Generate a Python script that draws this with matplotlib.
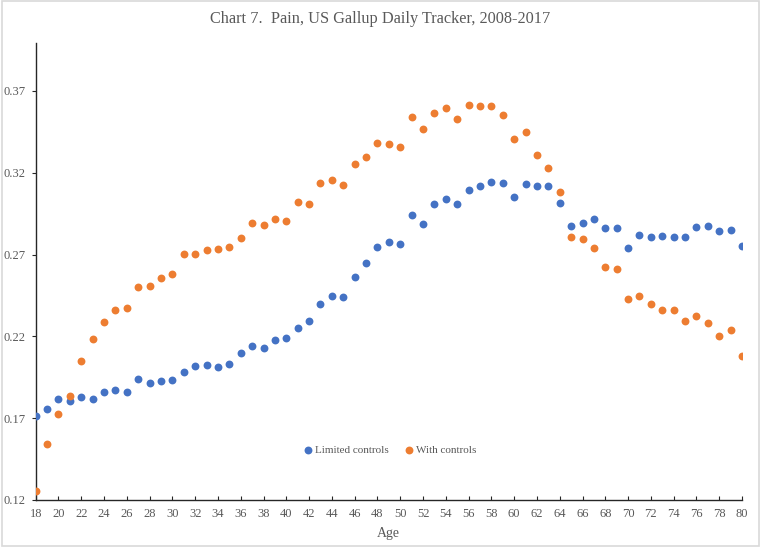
import matplotlib
matplotlib.use("Agg")
import matplotlib.pyplot as plt
from matplotlib.patches import Rectangle

ages = list(range(18, 81))
limited = [0.1715, 0.1756, 0.1815, 0.1805, 0.1832, 0.1815, 0.1860, 0.1870, 0.1862, 0.1940,
           0.1913, 0.1927, 0.1936, 0.1980, 0.2017, 0.2027, 0.2011, 0.2029, 0.2099, 0.2143,
           0.2127, 0.2176, 0.2188, 0.2253, 0.2296, 0.2400, 0.2445, 0.2443, 0.2561, 0.2649,
           0.2745, 0.2775, 0.2767, 0.2942, 0.2889, 0.3011, 0.3038, 0.3011, 0.3095, 0.3119,
           0.3142, 0.3140, 0.3054, 0.3132, 0.3119, 0.3117, 0.3015, 0.2877, 0.2895, 0.2918,
           0.2863, 0.2863, 0.2742, 0.2820, 0.2806, 0.2814, 0.2810, 0.2808, 0.2869, 0.2873,
           0.2842, 0.2852, 0.2753]
with_controls = [0.1253, 0.1542, 0.1728, 0.1834, 0.2050, 0.2182, 0.2286, 0.2361, 0.2372, 0.2502,
                 0.2508, 0.2559, 0.2580, 0.2702, 0.2704, 0.2728, 0.2736, 0.2748, 0.2801, 0.2891,
                 0.2879, 0.2916, 0.2905, 0.3023, 0.3007, 0.3140, 0.3154, 0.3123, 0.3256, 0.3297,
                 0.3382, 0.3378, 0.3356, 0.3541, 0.3466, 0.3565, 0.3594, 0.3529, 0.3612, 0.3608,
                 0.3610, 0.3551, 0.3408, 0.3447, 0.3311, 0.3229, 0.3085, 0.2810, 0.2797, 0.2738,
                 0.2624, 0.2610, 0.2427, 0.2445, 0.2396, 0.2361, 0.2361, 0.2296, 0.2325, 0.2280,
                 0.2200, 0.2239, 0.2080]
xticks = list(range(18, 81, 2))
yticks = [0.12, 0.17, 0.22, 0.27, 0.32, 0.37]
ytick_labels = ["0.12", "0.17", "0.22", "0.27", "0.32", "0.37"]

plt.rcParams['font.family'] = ['Liberation Serif', 'DejaVu Serif']
gray = '#595959'

fig = plt.figure(figsize=(7.61, 5.47), dpi=100)
ax = fig.add_axes([35.7/761, 1 - 500/547, (742 - 35.7)/761, (500 - 42.7)/547])

ax.scatter(ages, limited, s=32, color='#4472C4', label='Limited controls', zorder=3, linewidths=0)
ax.scatter(ages, with_controls, s=32, color='#ED7D31', label='With controls', zorder=3, linewidths=0)

ax.set_xlim(18, 80)
ax.set_ylim(0.12, 0.3995)
ax.set_xticks(xticks)
ax.set_yticks(yticks)
ax.set_yticklabels(ytick_labels)
for s in ['top', 'right']:
    ax.spines[s].set_visible(False)
for s in ['left', 'bottom']:
    ax.spines[s].set_color('#262626')
    ax.spines[s].set_linewidth(1.0)
ax.tick_params(axis='x', direction='in', length=3, colors='#262626', labelcolor=gray, labelsize=9, pad=6)
ax.tick_params(axis='y', direction='out', length=3, colors='#262626', labelcolor=gray, labelsize=9, pad=4)
ax.set_xlabel('Age', color=gray, fontsize=10, labelpad=5)

ax.legend(loc='center', bbox_to_anchor=((390.5 - 35.7)/706.3, 0.109), ncol=2, frameon=False,
          fontsize=8, handlelength=0.6, handletextpad=0.25, columnspacing=1.6,
          labelcolor=gray, markerscale=1.0)

fig.text(0.5, 1 - 19/547, 'Chart 7.  Pain, US Gallup Daily Tracker, 2008-2017',
         ha='center', va='center', fontsize=11.7, color=gray)

fig.patches.append(Rectangle((0.002, 0.002), 0.996, 0.996, transform=fig.transFigure,
                             fill=False, edgecolor='#D9D9D9', linewidth=1.2))

fig.savefig('out.png', dpi=100)
